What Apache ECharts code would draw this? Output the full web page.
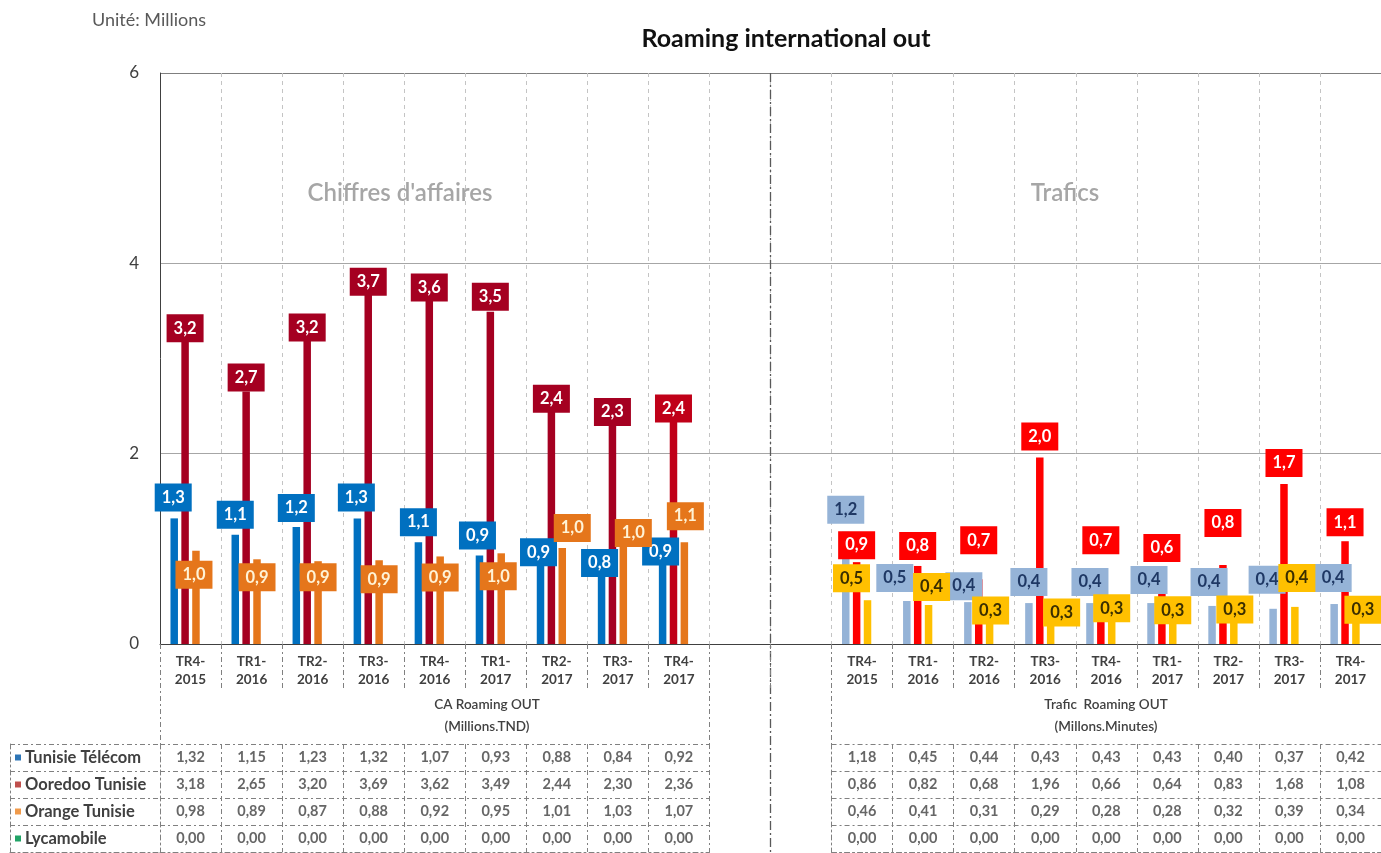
<!DOCTYPE html>
<html lang="fr"><head><meta charset="utf-8"><title>Roaming international out</title>
<script src="https://cdn.jsdelivr.net/npm/echarts@6/dist/echarts.min.js"></script>
<style>html,body{margin:0;padding:0;background:#fff;}#chart{width:1381px;height:853px;}</style>
</head><body><div id="chart"></div>
<script>
// ---------------- data ----------------
const quarters = ['TR4-2015','TR1-2016','TR2-2016','TR3-2016','TR4-2016','TR1-2017','TR2-2017','TR3-2017','TR4-2017'];
const operators = ['Tunisie Télécom','Ooredoo Tunisie','Orange Tunisie','Lycamobile'];
// CA Roaming OUT (Millions TND) — table shows 2 decimals, bar labels 1 decimal
const caTT      = [1.32,1.147,1.23,1.32,1.07,0.93,0.88,0.84,0.92];
const caOoredoo = [3.18,2.652,3.20,3.69,3.62,3.49,2.44,2.30,2.36];
const caOrange  = [0.98,0.89,0.87,0.88,0.92,0.953,1.01,1.03,1.07];
const caLyca    = [0.00,0.00,0.00,0.00,0.00,0.00,0.00,0.00,0.00];
// Trafic Roaming OUT (Millions minutes)
const trTT      = [1.18,0.452,0.44,0.43,0.43,0.43,0.40,0.37,0.42];
const trOoredoo = [0.86,0.82,0.68,1.96,0.66,0.64,0.83,1.68,1.08];
const trOrange  = [0.46,0.41,0.31,0.29,0.28,0.28,0.32,0.39,0.34];
const trLyca    = [0.00,0.00,0.00,0.00,0.00,0.00,0.00,0.00,0.00];
const yTicks = [0, 2, 4, 6];
const chartTitle = 'Roaming international out';
const unitNote = 'Unité: Millions';
const sectionNames = ["Chiffres d'affaires", 'Trafics'];
const tableTitles = ['CA Roaming OUT\n(Millions.TND)', 'Trafic  Roaming OUT\n(Millons.Minutes)'];

// ---------------- styling / layout ----------------
const FONT = 'Lato, "Open Sans", sans-serif';
const W = 1381, PLOT_L = 160, PLOT_T = 73, AXIS_Y = 644, H = 853;
const GAP_CATS = 2;
const N_CAT = quarters.length * 2 + GAP_CATS;
const CAT_W = (W - PLOT_L) / N_CAT;
const TABLE_T = 744, ROW_H = 27;
const LABEL_H = 28;

const caColors = ['#0070C0', '#A50021', '#E5761B', '#00B050'];
const trColors = ['#95B3D7', '#FF0000', '#FFC000', '#00B050'];
const caLabelText = ['#FFFFFF', '#FFFFFF', '#FFF3D6', '#FFFFFF'];
const trLabelText = ['#1F3864', '#FFFFFF', '#3A2E00', '#FFFFFF'];
const legendColors = ['#2E75B6', '#C0504D', '#F09A4A', '#21A366'];
// label nudges: [dx, rise of the label centre above the bar top] (hand-placed labels in the original)
const caNudge = [
  [[-1,21],[0,20],[0,19],[-1,21],[0,20],[-2,20],[-2,8],[-2,1],[-2,5]],
  [[0,13],[0,14],[0,12],[0,11],[0,12],[0,15],[0,13],[0,13],[0,11]],
  [[-2,-24],[0,-18],[0,-16],[0,-19],[0,-21],[-3,-23],[10,20],[10,13],[1,26]],
  null
];
const trNudge = [
  [[0,22],[-12,23],[-4,16],[0,21],[0,21],[-2,23],[-3,24],[-6,29],[-1,26]],
  [[0,17],[0,20],[0,39],[0,21],[0,41],[0,35],[0,42],[0,21],[0,19]],
  [[-16,22],[3,18],[1,4],[11,4],[0,9],[0,7],[1,4],[2,29],[7,2]],
  null
];
const colorOverride = { '1-8': '#C00018' }; // series 1, CA point 8 is a brighter red

const caSeries = [caTT, caOoredoo, caOrange, caLyca];
const trSeries = [trTT, trOoredoo, trOrange, trLyca];
const categories = quarters.concat(new Array(GAP_CATS).fill(''), quarters);

const fmt1 = v => (Math.round(v * 10) / 10).toFixed(1).replace('.', ',');
const fmt2 = v => v.toFixed(2).replace('.', ',');

function barItem(v, color, txt, nudge) {
  const o = { value: v, itemStyle: { color: color } };
  if (nudge) {
    o.label = { show: true, backgroundColor: color, color: txt, offset: [nudge[0], LABEL_H / 2 - nudge[1]] };
  } else {
    o.label = { show: false };
  }
  return o;
}

const barSeries = operators.map((name, k) => {
  const data = [];
  caSeries[k].forEach((v, i) => {
    const c = colorOverride[k + '-' + i] || caColors[k];
    data.push(barItem(v, c, caLabelText[k], caNudge[k] && caNudge[k][i]));
  });
  for (let g = 0; g < GAP_CATS; g++) data.push('-');
  trSeries[k].forEach((v, i) => {
    data.push(barItem(v, trColors[k], trLabelText[k], trNudge[k] && trNudge[k][i]));
  });
  return {
    name: name, type: 'bar', xAxisIndex: 0, yAxisIndex: 0,
    barWidth: 7.5, barGap: '45%', data: data, z: 3,
    label: {
      show: true, position: 'top', distance: 0,
      fontFamily: FONT, fontWeight: 'bold', fontSize: 16.5, lineHeight: 18,
      padding: [5, 7, 5, 7],
      formatter: p => fmt1(p.value)
    }
  };
});

function tableSeries(rows, xi) {
  const data = [];
  rows.forEach((arr, r) => arr.forEach((v, c) => data.push([c, r, v])));
  return {
    type: 'scatter', xAxisIndex: xi, yAxisIndex: xi, symbolSize: 0, silent: true,
    data: data,
    label: { show: true, position: 'inside', formatter: p => fmt2(p.value[2]),
      fontFamily: FONT, fontWeight: 'bold', fontSize: 14.5, color: '#404040' }
  };
}

const tableLine = { color: '#808080', width: 1, type: [5, 3, 2, 3] };
const lightDash = { color: '#C4C4C4', width: 1, type: [4, 4] };
const hidden = { show: false };

function tableAxes(gi, nCols) {
  return {
    x: { gridIndex: gi, type: 'category', data: new Array(nCols).fill(0).map((_, i) => i),
      axisLine: { show: true, lineStyle: tableLine }, axisTick: hidden, axisLabel: hidden,
      splitLine: { show: true, interval: 0, lineStyle: tableLine } },
    y: { gridIndex: gi, type: 'category', inverse: true, data: operators,
      axisLine: { show: true, lineStyle: tableLine }, axisTick: hidden, axisLabel: hidden,
      splitLine: { show: true, interval: 0, lineStyle: tableLine } }
  };
}

const tNames = tableAxes(1, 1);
tNames.y.axisLabel = {
  show: true, inside: true, margin: 5,
  formatter: (v, i) => '{m' + i + '| }{t|' + v + '}',
  rich: {
    m0: { width: 6, height: 6, backgroundColor: legendColors[0] },
    m1: { width: 6, height: 6, backgroundColor: legendColors[1] },
    m2: { width: 6, height: 6, backgroundColor: legendColors[2] },
    m3: { width: 6, height: 6, backgroundColor: legendColors[3] },
    t: { fontFamily: FONT, fontWeight: 'bold', fontSize: 16.5, color: '#404040', padding: [0, 0, 0, 4] }
  }
};
const tLeft = tableAxes(2, quarters.length);
const tRight = tableAxes(3, quarters.length);

const tableBordersIdx = [0, quarters.length, quarters.length + GAP_CATS];

const option = {
  animation: false,
  backgroundColor: '#FFFFFF',
  title: [
    { text: chartTitle, left: 786, top: 26, textAlign: 'center', padding: 0,
      textStyle: { fontFamily: FONT, fontWeight: 'bold', fontSize: 25, color: '#111' } },
    { text: unitNote, left: 92, top: 11, padding: 0,
      textStyle: { fontFamily: FONT, fontWeight: 'normal', fontSize: 18, color: '#595959' } },
    { text: sectionNames[0], left: 400, top: 181, textAlign: 'center', padding: 0,
      textStyle: { fontFamily: FONT, fontWeight: 600, fontSize: 24, color: '#A6A6A6' } },
    { text: sectionNames[1], left: 1065, top: 181, textAlign: 'center', padding: 0,
      textStyle: { fontFamily: FONT, fontWeight: 600, fontSize: 24, color: '#A6A6A6' } },
    { text: tableTitles[0], left: 487, top: 694, textAlign: 'center', padding: 0,
      textStyle: { fontFamily: FONT, fontWeight: 600, fontSize: 13.5, lineHeight: 22, color: '#404040', align: 'center' } },
    { text: tableTitles[1], left: 1106, top: 694, textAlign: 'center', padding: 0,
      textStyle: { fontFamily: FONT, fontWeight: 600, fontSize: 13.5, lineHeight: 22, color: '#404040', align: 'center' } }
  ],
  grid: [
    { left: PLOT_L, right: 0, top: PLOT_T, height: AXIS_Y - PLOT_T },
    { left: 10, top: TABLE_T, width: PLOT_L - 10, height: ROW_H * 4 },
    { left: PLOT_L, top: TABLE_T, width: CAT_W * quarters.length, height: ROW_H * 4 },
    { left: PLOT_L + CAT_W * (quarters.length + GAP_CATS), top: TABLE_T, width: CAT_W * quarters.length, height: ROW_H * 4 },
    { left: PLOT_L, right: 0, top: AXIS_Y, height: TABLE_T - AXIS_Y },
    { left: PLOT_L, right: 0, top: PLOT_T, height: H - PLOT_T }
  ],
  xAxis: [
    { gridIndex: 0, type: 'category', data: categories,
      axisLine: { show: true, lineStyle: { color: '#404040', width: 1 } },
      axisTick: { show: true, interval: 0, length: 46, lineStyle: tableLine },
      axisLabel: { interval: 0, margin: 9, formatter: v => v ? v.replace('-', '-\n') : '',
        fontFamily: FONT, fontWeight: 'bold', fontSize: 13.5, lineHeight: 18, color: '#404040' },
      splitLine: { show: true, interval: 0, lineStyle: lightDash } },
    tNames.x, tLeft.x, tRight.x,
    { gridIndex: 4, type: 'category', data: categories, axisLine: hidden, axisTick: hidden, axisLabel: hidden,
      splitLine: { show: true, interval: (i) => tableBordersIdx.indexOf(i) >= 0, lineStyle: tableLine } },
    // separator between the two sections (middle of the empty gap)
    { gridIndex: 5, type: 'value', min: 0, max: N_CAT, interval: N_CAT / 2,
      axisLine: hidden, axisTick: hidden, axisLabel: hidden,
      splitLine: { show: true, lineStyle: { color: ['rgba(0,0,0,0)', '#595959', 'rgba(0,0,0,0)'], width: 1.3, type: [9, 3, 2, 3] } } }
  ],
  yAxis: [
    { gridIndex: 0, type: 'value', min: yTicks[0], max: yTicks[yTicks.length - 1], interval: yTicks[1] - yTicks[0],
      axisLine: { show: true, lineStyle: { color: '#404040', width: 1 } }, axisTick: hidden,
      axisLabel: { margin: 21, fontFamily: FONT, fontSize: 17, color: '#404040' },
      splitLine: { show: true, lineStyle: { color: ['#A6A6A6', '#A6A6A6', '#A6A6A6', '#7F7F7F'], width: 1 } } },
    tNames.y, tLeft.y, tRight.y,
    { gridIndex: 4, type: 'value', show: false },
    { gridIndex: 5, type: 'value', show: false }
  ],
  series: barSeries.concat([
    tableSeries(caSeries, 2),
    tableSeries(trSeries, 3),
    { type: 'scatter', xAxisIndex: 1, yAxisIndex: 1, data: [], silent: true },
    { type: 'scatter', xAxisIndex: 4, yAxisIndex: 4, data: [], silent: true },
    { type: 'scatter', xAxisIndex: 5, yAxisIndex: 5, data: [], silent: true }
  ])
};

const chart = echarts.init(document.getElementById('chart'), null, { renderer: 'canvas' });
chart.setOption(option);
</script>
</body></html>
